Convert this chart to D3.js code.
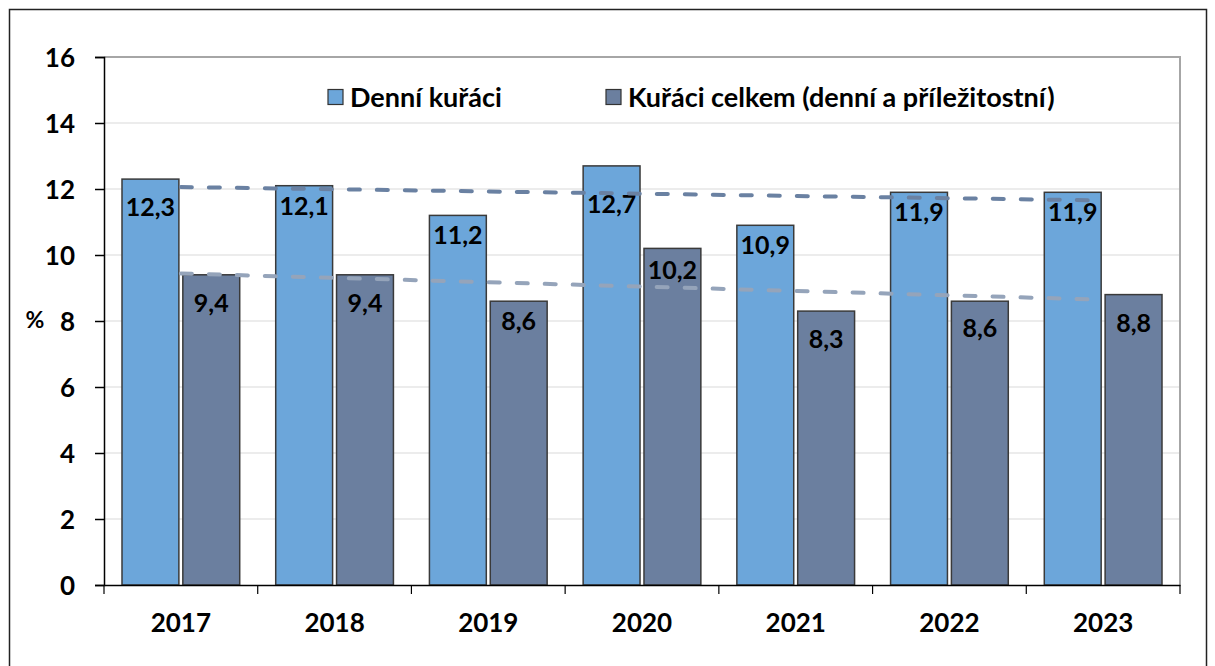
<!DOCTYPE html>
<html>
<head>
<meta charset="utf-8">
<script src="https://cdn.jsdelivr.net/npm/d3@7"></script>
<style>
  body { margin: 0; background: #fff; }
  text { font-family: Lato, 'Open Sans', sans-serif; font-weight: bold; }
</style>
</head>
<body>
<div id="chart"></div>
<script>
const YEARS = ['2017', '2018', '2019', '2020', '2021', '2022', '2023']
const DAILY = [12.3, 12.1, 11.2, 12.7, 10.9, 11.9, 11.9]
const TOTAL = [9.4, 9.4, 8.6, 10.2, 8.3, 8.6, 8.8]
const SERIES_NAMES = ['Denní kuřáci', 'Kuřáci celkem (denní a příležitostní)']
const Y_TICKS = [0, 2, 4, 6, 8, 10, 12, 14, 16]

// labels that were nudged down to clear the trend lines (px)
const LABEL_NUDGE = [
  [8, 0, 0, 18, 0, 0, 0],
  [8, 8, 0, 2, 8, 7, 8]
]

const WIDTH = 1215
const HEIGHT = 666
const PLOT = { left: 104, top: 57, right: 1180, bottom: 585 }
const COLORS = ['#6ca6da', '#6b7f9f']
const TREND_COLORS = ['#6a81a2', '#95a4ba']

const svg = d3.select('#chart')
  .append('svg')
  .attr('width', WIDTH)
  .attr('height', HEIGHT)

// outer frame
svg.append('rect')
  .attr('x', 9.5).attr('y', 9.5)
  .attr('width', 1197).attr('height', 720)
  .attr('fill', 'none')
  .attr('stroke', '#222')
  .attr('stroke-width', 1.5)

const x = d3.scaleBand()
  .domain(YEARS)
  .range([PLOT.left, PLOT.right])

const inner = d3.scaleBand()
  .domain([0, 1])
  .range([18, x.bandwidth() - 18])
  .paddingInner(0.065)

const y = d3.scaleLinear()
  .domain([0, 16])
  .range([PLOT.bottom, PLOT.top])

// gridlines
svg.append('g')
  .selectAll('line')
  .data(Y_TICKS.slice(1, -1))
  .enter()
  .append('line')
  .attr('x1', PLOT.left).attr('x2', PLOT.right)
  .attr('y1', d => y(d)).attr('y2', d => y(d))
  .attr('stroke', '#d9d9d9')
  .attr('stroke-width', 1)

// top and right border of plot
svg.append('path')
  .attr('d', `M${PLOT.left},${PLOT.top}H${PLOT.right}V${PLOT.bottom}`)
  .attr('fill', 'none')
  .attr('stroke', '#a6a6a6')
  .attr('stroke-width', 2)

// bars
const groups = svg.append('g')
  .selectAll('g')
  .data(YEARS)
  .enter()
  .append('g')
  .attr('transform', d => `translate(${x(d)},0)`)

groups.selectAll('rect')
  .data((d, i) => [DAILY[i], TOTAL[i]])
  .enter()
  .append('rect')
  .attr('x', (d, j) => inner(j))
  .attr('y', d => y(d))
  .attr('width', inner.bandwidth())
  .attr('height', d => y(0) - y(d))
  .attr('fill', (d, j) => COLORS[j])
  .attr('stroke', '#3a3a3a')
  .attr('stroke-width', 1.5)

// linear trend lines
function trend (values) {
  const n = values.length
  const xs = values.map((v, i) => i + 1)
  const mx = d3.mean(xs)
  const my = d3.mean(values)
  const slope = d3.sum(xs, (xv, i) => (xv - mx) * (values[i] - my)) / d3.sum(xs, xv => (xv - mx) ** 2)
  return [my + slope * (1 - mx), my + slope * (n - mx)]
}

;[DAILY, TOTAL].forEach((values, k) => {
  const t = trend(values)
  svg.append('line')
    .attr('x1', x(YEARS[0]) + x.bandwidth() / 2)
    .attr('x2', x(YEARS[YEARS.length - 1]) + x.bandwidth() / 2)
    .attr('y1', y(t[0]))
    .attr('y2', y(t[1]))
    .attr('stroke', TREND_COLORS[k])
    .attr('stroke-width', 4)
    .attr('stroke-linecap', 'round')
    .attr('stroke-dasharray', '11,17')
})

// value labels
groups.selectAll('text')
  .data((d, i) => [[DAILY[i], LABEL_NUDGE[0][i]], [TOTAL[i], LABEL_NUDGE[1][i]]])
  .enter()
  .append('text')
  .attr('x', (d, j) => inner(j) + inner.bandwidth() / 2)
  .attr('y', d => y(d[0]) + 29 + d[1])
  .attr('text-anchor', 'middle')
  .attr('font-size', 25)
  .attr('fill', '#000')
  .text(d => String(d[0]).replace('.', ','))

// y axis
const yAxis = svg.append('g')
  .attr('transform', `translate(${PLOT.left},0)`)
  .call(d3.axisLeft(y).tickValues(Y_TICKS).tickSize(9).tickPadding(20))
yAxis.selectAll('text').attr('font-size', 26).attr('fill', '#000').attr('dy', '0.36em')
yAxis.selectAll('line, path').attr('stroke', '#000').attr('stroke-width', 1.5)

// x axis
const xAxis = svg.append('g')
  .attr('transform', `translate(0,${PLOT.bottom})`)
  .call(d3.axisBottom(x).tickSize(0).tickPadding(29))
xAxis.selectAll('text').attr('font-size', 26).attr('fill', '#000')
xAxis.select('.domain').attr('stroke', '#000').attr('stroke-width', 1.5)

svg.append('g')
  .selectAll('line')
  .data(YEARS.concat(['end']))
  .enter()
  .append('line')
  .attr('x1', (d, i) => PLOT.left + i * x.step())
  .attr('x2', (d, i) => PLOT.left + i * x.step())
  .attr('y1', PLOT.bottom)
  .attr('y2', PLOT.bottom + 9)
  .attr('stroke', '#000')
  .attr('stroke-width', 1.2)

// y axis title
svg.append('text')
  .attr('x', 35).attr('y', 328)
  .attr('text-anchor', 'middle')
  .attr('font-size', 23)
  .text('%')

// legend
const legendX = [328, 606]
SERIES_NAMES.forEach((name, k) => {
  svg.append('rect')
    .attr('x', legendX[k]).attr('y', 89.5)
    .attr('width', 15).attr('height', 15)
    .attr('fill', COLORS[k])
    .attr('stroke', '#333')
    .attr('stroke-width', 1.2)
  svg.append('text')
    .attr('x', legendX[k] + 22).attr('y', 107)
    .attr('font-size', 27)
    .text(name)
})
</script>
</body>
</html>
